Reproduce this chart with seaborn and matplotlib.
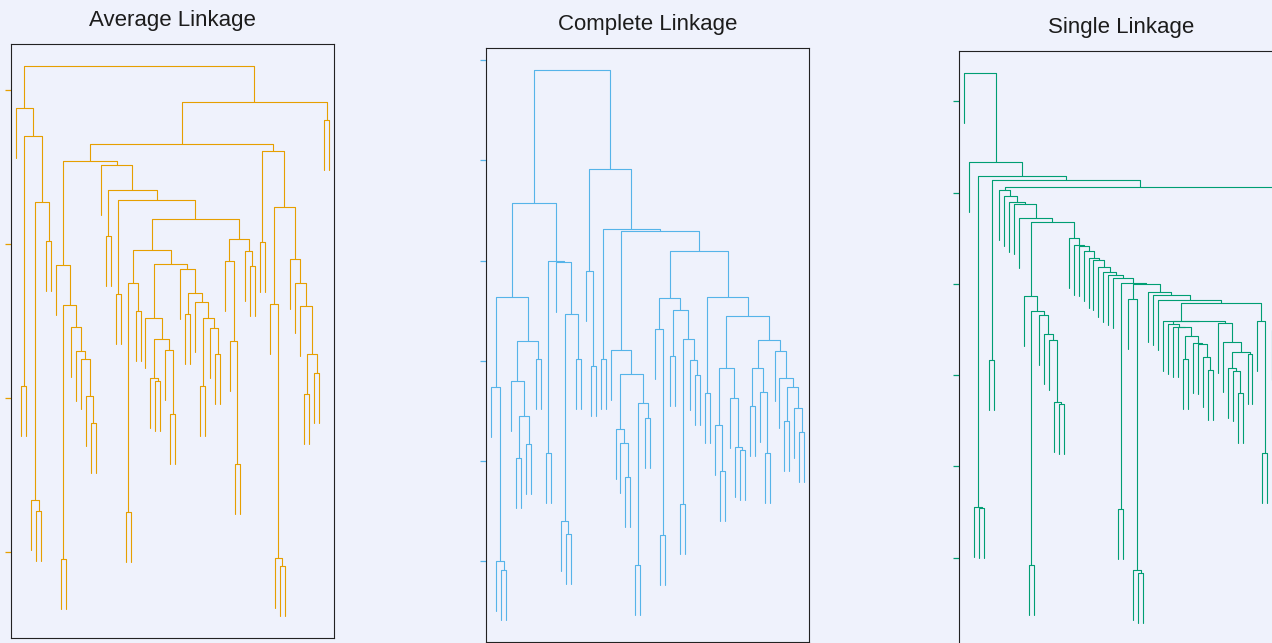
import numpy as np
import pandas as pd
import matplotlib
matplotlib.use("Agg")
import matplotlib.pyplot as plt
import seaborn as sns

# Leaves are numbered 0..63 in display order; every merge is the contiguous
# leaf range [lo, hi] joined at height h.
N_LEAVES = 64

AVG_LO = [1, 4, 3, 6, 3, 1, 0,
          9, 15, 14, 13, 12, 11, 9, 8,
          18, 20, 22, 24, 22, 28, 27, 31, 30, 27, 26, 34, 37, 40, 39, 37, 36, 34, 33, 26, 22,
          44, 43, 42, 47, 46, 42, 22, 20, 18, 17, 8,
          49, 53, 52, 51, 58, 60, 58, 57, 56, 55, 51, 49,
          8, 62, 8, 0]
AVG_HI = [2, 5, 5, 7, 7, 7, 7,
          10, 16, 16, 16, 16, 16, 16, 16,
          19, 21, 23, 25, 25, 29, 29, 32, 32, 32, 32, 35, 38, 41, 41, 41, 41, 41, 41, 41, 41,
          45, 45, 45, 48, 48, 48, 48, 48, 48, 48, 48,
          50, 54, 54, 54, 59, 61, 61, 61, 61, 61, 61, 61,
          61, 63, 63, 63]
AVG_H = [2.078, 1.266, 1.338, 3.019, 3.273, 3.701, 3.883,
         0.955, 1.838, 2.013, 2.253, 2.305, 2.461, 2.604, 2.864,
         3.052, 2.675, 1.260, 2.565, 2.747, 2.110, 2.130, 1.896, 2.312, 2.383, 2.519, 2.545,
         2.078, 2.286, 2.455, 2.519, 2.623, 2.682, 2.838, 2.870, 2.961,
         1.571, 2.370, 2.890, 2.857, 2.955, 3.032, 3.162, 3.286, 3.351, 3.513, 3.539,
         3.013, 0.909, 0.961, 2.610, 2.026, 2.162, 2.286, 2.597, 2.747, 2.903, 3.240, 3.604,
         3.649, 3.805, 3.922, 4.156]

COM_LO = [2, 1, 0, 5, 7, 5, 4, 9, 4, 0, 11, 15, 14, 17, 14, 13, 11, 0,
          20, 19, 22, 27, 26, 25, 29, 31, 29, 25, 24,
          34, 33, 36, 38, 41, 40, 38, 36, 33,
          43, 46, 45, 50, 49, 48, 45, 52, 55, 54, 52, 59, 62, 61, 59, 58, 57, 52, 45, 43,
          33, 24, 22, 19, 0]
COM_HI = [3, 3, 3, 6, 8, 8, 8, 10, 10, 10, 12, 16, 16, 18, 18, 18, 18, 18,
          21, 21, 23, 28, 28, 28, 30, 32, 32, 32, 32,
          35, 35, 37, 39, 42, 42, 42, 42, 42,
          44, 47, 47, 51, 51, 51, 51, 53, 56, 56, 56, 60, 63, 63, 63, 63, 63, 63, 63, 63,
          63, 63, 63, 63, 63]
COM_H = [0.910, 1.000, 2.737, 2.028, 2.168, 2.447, 2.796, 3.016, 3.196, 3.635,
         2.078, 1.269, 1.399, 3.016, 3.465, 3.984, 3.994, 4.573,
         2.946, 3.894, 3.016, 1.838, 2.178, 2.317, 0.960, 2.427, 2.577, 2.866, 3.106,
         1.259, 3.315, 3.046, 1.569, 2.856, 3.006, 3.216, 3.505, 3.625,
         2.677, 1.898, 2.357, 2.108, 2.138, 2.627, 2.926, 2.547, 2.078, 2.687, 2.926,
         2.397, 2.287, 2.527, 2.737, 2.826, 3.096, 3.206, 3.445, 3.635,
         4.094, 4.293, 4.313, 4.912, 5.900]

SGL_LO = [0, 1, 2, 2, 3, 5, 5, 7, 62, 7, 8, 9, 10, 11, 12, 12, 13, 13, 15, 16,
          17, 18, 19, 21, 22, 23, 24, 25, 26, 27, 28, 29, 30, 31, 31, 33, 33, 34, 35, 37,
          38, 39, 40, 40, 41, 41, 42, 43, 44, 44, 46, 47, 48, 49, 51, 52, 53, 57, 53, 54,
          55, 59, 60]
SGL_HI = [63, 63, 63, 4, 4, 63, 6, 63, 63, 61, 61, 61, 61, 61, 61, 20, 20, 14, 20, 20,
          20, 20, 20, 61, 61, 61, 61, 61, 61, 61, 61, 61, 61, 61, 32, 61, 36, 36, 36, 61,
          61, 61, 61, 58, 58, 50, 50, 50, 50, 45, 50, 50, 50, 50, 58, 58, 58, 58, 56, 56,
          56, 61, 61]
SGL_H = [6.307, 5.331, 5.180, 1.553, 1.542, 5.137, 3.162, 5.060, 3.500, 5.027,
         4.961, 4.892, 4.873, 4.720, 4.676, 3.864, 3.699, 0.917, 3.655, 3.449,
         3.380, 2.703, 2.681, 4.500, 4.423, 4.412, 4.357, 4.288, 4.259, 4.182,
         4.133, 4.102, 4.059, 4.006, 1.531, 4.000, 3.835, 0.868, 0.829, 3.908,
         3.883, 3.819, 3.786, 3.597, 3.589, 3.561, 3.531, 3.524, 3.429, 3.172,
         3.352, 3.337, 3.194, 3.052, 3.575, 3.359, 3.249, 3.227, 3.081, 3.041,
         2.799, 3.597, 2.152]

TITLES = ["Average Linkage", "Complete Linkage", "Single Linkage"]
COLORS = ["#E69F00", "#56B4E9", "#009E73"]
Y_TICKS = [[1, 2, 3, 4], [1, 2, 3, 4, 5, 6], [1, 2, 3, 4, 5, 6]]

BG = "#eff2fc"
INK = "#222222"


def dendrogram_frame(lo, hi, h, n=N_LEAVES):
    """Turn merge ranges into one U-shaped path per merge (leaves hang by 10% of the height range)."""
    assert len(lo) == len(hi) == len(h)
    height = {(a, b): v for a, b, v in zip(lo, hi, h)}
    hang = 0.1 * (max(h) - min(h))

    def split(a, b):
        for m in range(a, b):
            left_ok = (m == a) or ((a, m) in height)
            right_ok = (m + 1 == b) or ((m + 1, b) in height)
            if left_ok and right_ok:
                return (a, m), (m + 1, b)
        raise ValueError((a, b))

    xpos = {}

    def pos(node):
        a, b = node
        if a == b:
            return float(a)
        if node not in xpos:
            left, right = split(a, b)
            xpos[node] = 0.5 * (pos(left) + pos(right))
        return xpos[node]

    rows = []
    for k, node in enumerate(height):
        top = height[node]
        left, right = split(*node)
        yl = height[left] if left[0] != left[1] else top - hang
        yr = height[right] if right[0] != right[1] else top - hang
        xl, xr = pos(left), pos(right)
        for x, y in [(xl, yl), (xl, top), (xr, top), (xr, yr)]:
            rows.append({"x": x, "y": y, "link": k})
    frame = pd.DataFrame(rows)
    y0 = min(h) - hang
    y1 = max(h)
    pad = 0.04 * (y1 - y0)
    return frame, (y0 - pad, y1 + pad)


sns.set_theme(style="white", rc={
    "axes.facecolor": BG,
    "figure.facecolor": BG,
    "axes.edgecolor": INK,
    "axes.linewidth": 0.8,
})
plt.rcParams["font.family"] = ["Liberation Sans", "DejaVu Sans"]

fig = plt.figure(figsize=(12.72, 6.43), dpi=100)
W, H = 1272.0, 643.0
# panel boxes in pixels: left, top
boxes = [(11.3, 44.3), (486.3, 48.3), (959.3, 51.3)]
panel_w, panel_h = 323.0, 594.0

panels = [(AVG_LO, AVG_HI, AVG_H), (COM_LO, COM_HI, COM_H), (SGL_LO, SGL_HI, SGL_H)]

for (lo, hi, h), (px, py), title, color, yt in zip(panels, boxes, TITLES, COLORS, Y_TICKS):
    ax = fig.add_axes([px / W, (H - py - panel_h) / H, panel_w / W, panel_h / H])
    frame, ylim = dendrogram_frame(lo, hi, h)
    sns.lineplot(data=frame, x="x", y="y", units="link", estimator=None, sort=False,
                 color=color, linewidth=0.8, ax=ax)
    ax.set_xlim(-1, N_LEAVES)
    ax.set_ylim(*ylim)
    ax.set_xticks([])
    ax.set_yticks(yt)
    ax.set_yticklabels([])
    ax.tick_params(axis="y", left=True, length=4.5, width=0.9, color=color)
    ax.set_xlabel("")
    ax.set_ylabel("")
    for s in ax.spines.values():
        s.set_visible(True)
        s.set_color(INK)
        s.set_linewidth(0.8)
    ax.set_title(title, fontsize=16, pad=13, color="#1c1c1c")

fig.savefig("out.png", dpi=100, facecolor=BG)
